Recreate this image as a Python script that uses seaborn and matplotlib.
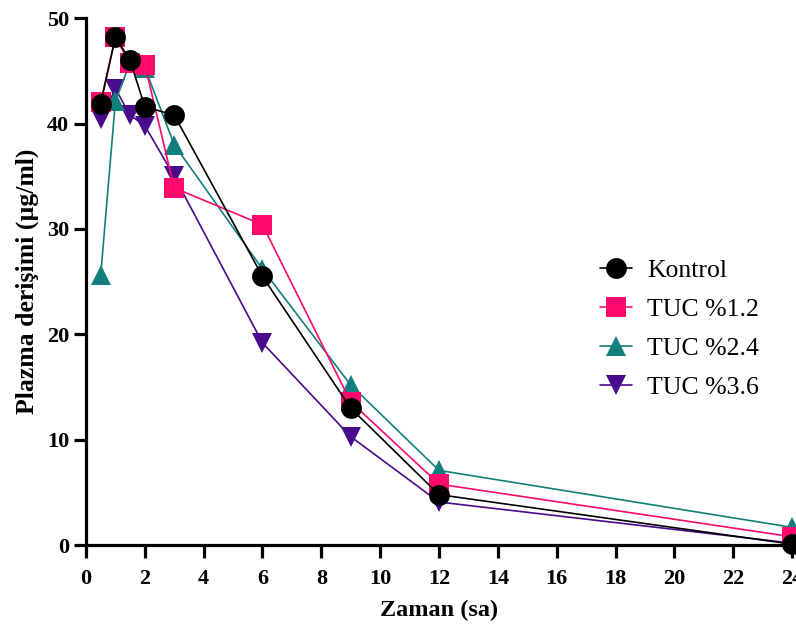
import numpy as np
import pandas as pd
import seaborn as sns
import matplotlib
matplotlib.use("Agg")
import matplotlib.pyplot as plt

times = [0.5, 1, 1.5, 2, 3, 6, 9, 12, 24]
kontrol = [41.9, 48.2, 46.0, 41.6, 40.8, 25.5, 13.0, 4.8, 0.1]
tuc12 = [42.0, 48.2, 45.7, 45.6, 33.9, 30.4, 13.6, 5.8, 0.8]
tuc24 = [25.6, 42.1, 45.8, 45.3, 38.0, 26.2, 15.2, 7.1, 1.7]
tuc36 = [40.4, 43.3, 40.8, 39.8, 35.0, 19.2, 10.3, 4.1, 0.2]

series = ["Kontrol", "TUC %1.2", "TUC %2.4", "TUC %3.6"]
colors = ["#000000", "#FF0A6C", "#11807C", "#4A0A8C"]
markers = ["o", "s", "^", "v"]

df = pd.concat([
    pd.DataFrame({"Zaman": times, "Konsantrasyon": vals, "Grup": name})
    for name, vals in zip(series, [kontrol, tuc12, tuc24, tuc36])
])

sns.set_theme(style="ticks")
plt.rcParams['font.family'] = ['Liberation Serif', 'DejaVu Serif']
plt.rcParams['text.color'] = 'black'
plt.rcParams['axes.labelcolor'] = 'black'

fig = plt.figure(figsize=(7.96, 6.26), dpi=100)
ax = fig.add_axes([0.108, 0.129, 0.887, 0.842])

sns.lineplot(data=df, x="Zaman", y="Konsantrasyon", hue="Grup", style="Grup",
             palette=dict(zip(series, colors)), markers=dict(zip(series, markers)),
             dashes=False, markersize=15, linewidth=1.2, markeredgewidth=0,
             ax=ax, clip_on=False, legend=True)
# Kontrol drawn on top, last series at bottom
zmap = {c: z for c, z in zip(colors, [6, 5, 4, 3])}
for ln in ax.lines:
    col = matplotlib.colors.to_hex(ln.get_color()).upper()
    for c, z in zmap.items():
        if c.upper() == col:
            ln.set_zorder(z)

ax.set_xlim(0, 24)
ax.set_ylim(0, 50)
ax.set_xticks(np.arange(0, 25, 2))
ax.set_yticks(np.arange(0, 51, 10))
for s in ["top", "right"]:
    ax.spines[s].set_visible(False)
for s in ["left", "bottom"]:
    ax.spines[s].set_linewidth(2.3)
    ax.spines[s].set_color("black")
ax.tick_params(axis="both", direction="out", length=9, width=2.3, labelsize=16, colors="black")
ax.tick_params(axis="x", pad=8)
ax.tick_params(axis="y", pad=3)
for lab in ax.get_xticklabels() + ax.get_yticklabels():
    lab.set_fontweight("bold")
ax.set_xlabel("Zaman (sa)", fontsize=17.5, fontweight="bold", labelpad=8, color="black")
ax.set_ylabel("Plazma derişimi (µg/ml)", fontsize=18.5, fontweight="bold", labelpad=6, color="black")

handles, labels = ax.get_legend_handles_labels()
leg = ax.legend(handles, labels, loc="center left", bbox_to_anchor=(0.695, 0.41),
                frameon=False, fontsize=18.5, handlelength=1.25, labelspacing=0.63,
                handletextpad=0.6, markerscale=1.0, labelcolor="black")
fig.savefig("out.png", dpi=100)
